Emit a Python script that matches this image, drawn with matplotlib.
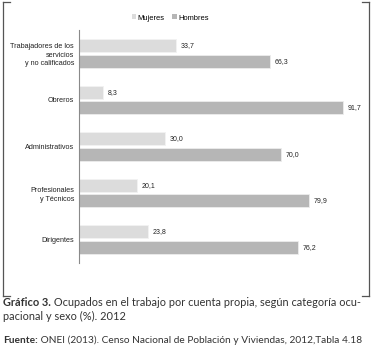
import numpy as np
import matplotlib
matplotlib.use('Agg')
import matplotlib.pyplot as plt
from matplotlib.lines import Line2D
from matplotlib.patches import Patch

#==============================================================================
# Datos
#==============================================================================
categorias = ['Trabajadores de los\nservicios\ny no calificados', 'Obreros',
              'Administrativos', 'Profesionales\ny Técnicos', 'Dirigentes']
mujeres = [33.7, 8.3, 30.0, 20.1, 23.8]
hombres = [66.3, 91.7, 70.0, 79.9, 76.2]
series = ['Mujeres', 'Hombres']

col_muj = '#dcdcdc'
col_hom = '#b6b6b6'
txt_col = '#333333'

W, H = 373, 347
fig = plt.figure(figsize=(W / 100, H / 100), dpi=100)
fig.patch.set_facecolor('white')

def fx(px): return px / W
def fy(py): return 1 - py / H

ax = fig.add_axes([fx(79), fy(263), 288 / W, 233 / H])

#==============================================================================
# Barras
#==============================================================================
y = np.arange(len(categorias))
off = 0.168
alto = 0.28
ax.barh(y - off, mujeres, height=alto, color=col_muj, edgecolor='#f2f2f2', linewidth=0.6)
ax.barh(y + off, hombres, height=alto, color=col_hom, edgecolor='#ececec', linewidth=0.6)

for yy, m, h in zip(y, mujeres, hombres):
    ax.text(m + 1.6, yy - off, f'{m:.1f}'.replace('.', ','), va='center', ha='left',
            fontsize=5.0, family='Liberation Sans', color='#222222')
    ax.text(h + 1.6, yy + off, f'{h:.1f}'.replace('.', ','), va='center', ha='left',
            fontsize=5.0, family='Liberation Sans', color='#222222')

ax.set_xlim(0, 100)
ax.set_ylim(len(categorias) - 0.5, -0.5)
ax.set_yticks(y)
ax.set_yticklabels(categorias, fontsize=5.2, family='Liberation Sans', color='#222222',
                   linespacing=1.35)
ax.tick_params(axis='y', length=0, pad=3.6)
ax.set_xticks([])
for s in ['top', 'right', 'bottom']:
    ax.spines[s].set_visible(False)
ax.spines['left'].set_color('#8a8a8a')
ax.spines['left'].set_linewidth(0.8)

#==============================================================================
# Leyenda
#==============================================================================
handles = [Patch(facecolor=col_muj, edgecolor='none'), Patch(facecolor=col_hom, edgecolor='none')]
fig.legend(handles, series, loc='center', bbox_to_anchor=(fx(170), fy(18)), ncol=2,
           frameon=False, handlelength=0.6, handleheight=0.6, handletextpad=0.2,
           columnspacing=1.0, prop={'family': 'Liberation Sans', 'size': 5.4})

#==============================================================================
# Marco
#==============================================================================
lc = '#555555'
for xs, ys in [([3, 3], [2, 296]), ([3, 10], [2, 2]), ([3, 10], [296, 296]),
               ([369, 369], [2, 296]), ([362, 369], [2, 2]), ([362, 369], [296, 296])]:
    fig.add_artist(Line2D([fx(v) for v in xs], [fy(v) for v in ys], color=lc, lw=0.9))

#==============================================================================
# Pie de grafico (parte en negrita + resto, misma linea base)
#==============================================================================
fam = 'Lato'
def pie(y_px, negrita, resto, fs):
    t = fig.text(fx(3), fy(y_px), negrita, fontsize=fs, family=fam, weight='bold',
                 color=txt_col, va='baseline', ha='left')
    fig.canvas.draw()
    ancho = t.get_window_extent().width
    fig.text(fx(3 + ancho), fy(y_px), resto, fontsize=fs, family=fam,
             color=txt_col, va='baseline', ha='left')

pie(306, 'Gráfico 3.', ' Ocupados en el trabajo por cuenta propia, según categoría ocu-', 7.9)
fig.text(fx(3), fy(320), 'pacional y sexo (%). 2012', fontsize=7.9, family=fam,
         color=txt_col, va='baseline', ha='left')
pie(343, 'Fuente:', ' ONEI (2013). Censo Nacional de Población y Viviendas, 2012,Tabla 4.18', 7.3)

fig.savefig('out.png', dpi=100)
